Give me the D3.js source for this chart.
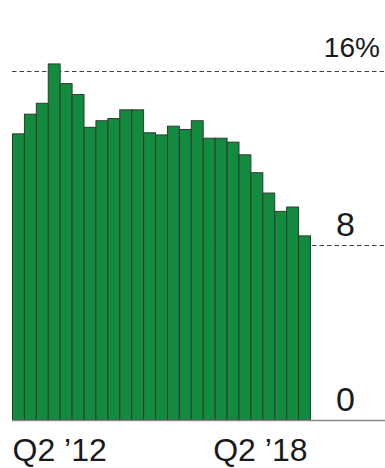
<!DOCTYPE html>
<html>
<head>
<meta charset="utf-8">
<script src="https://cdn.jsdelivr.net/npm/d3@7"></script>
<style>
  html, body { margin: 0; padding: 0; background: #fff; }
  svg { display: block; }
  text { font-family: "Liberation Sans", Arial, Helvetica, sans-serif; fill: #1a1a1a; }
</style>
</head>
<body>
<svg id="chart" width="385" height="468"></svg>
<script>
// Quarterly share, Q2 2012 through Q2 2018 (percent)
const quarters = [
  "Q2 '12", "Q3 '12", "Q4 '12", "Q1 '13", "Q2 '13", "Q3 '13", "Q4 '13",
  "Q1 '14", "Q2 '14", "Q3 '14", "Q4 '14", "Q1 '15", "Q2 '15", "Q3 '15",
  "Q4 '15", "Q1 '16", "Q2 '16", "Q3 '16", "Q4 '16", "Q1 '17", "Q2 '17",
  "Q3 '17", "Q4 '17", "Q1 '18", "Q2 '18"
];
const shares = [
  13.1, 14.0, 14.5, 16.3, 15.4, 14.9, 13.4, 13.7, 13.8, 14.2, 14.2, 13.15, 13.05,
  13.45, 13.3, 13.7, 12.9, 12.9, 12.72, 12.14, 11.32, 10.39, 9.55, 9.75, 8.43
];
const gridValues = [16, 8];
const tickLabels = ["16", "8", "0"];
const tickValues = [16, 8, 0];
const xLabels = ["Q2 '12", "Q2 '18"];

const svg = d3.select("#chart");

const x = d3.scaleBand().domain(quarters).range([12.5, 310.5]).padding(0);
const y = d3.scaleLinear().domain([0, 16]).range([420, 70.5]);

// dashed reference lines
svg.append("g")
  .selectAll("line")
  .data(gridValues)
  .join("line")
  .attr("x1", 12)
  .attr("x2", 385)
  .attr("y1", d => Math.round(y(d)) + 0.5)
  .attr("y2", d => Math.round(y(d)) + 0.5)
  .attr("stroke", "#444")
  .attr("stroke-width", 1.2)
  .attr("stroke-dasharray", "4.5,3");

// bars
svg.append("g")
  .selectAll("rect")
  .data(shares)
  .join("rect")
  .attr("x", (d, i) => x(quarters[i]))
  .attr("y", d => y(d))
  .attr("width", x.bandwidth())
  .attr("height", d => y(0) - y(d))
  .attr("fill", "#128b3f")
  .attr("stroke", "#2e3a30")
  .attr("stroke-width", 1);

// baseline
svg.append("line")
  .attr("x1", 12).attr("x2", 385)
  .attr("y1", y(0) + 0.5).attr("y2", y(0) + 0.5)
  .attr("stroke", "#8a8a8a")
  .attr("stroke-width", 1.5);

// value axis labels, numbers right-aligned with the % hanging outside
const yl = svg.append("g");
tickValues.forEach((v, i) => {
  const isTop = i === 0;
  const base = isTop ? y(v) - 13.5 : y(v) - 9.5;
  yl.append("text")
    .attr("x", 355)
    .attr("y", base)
    .attr("text-anchor", "end")
    .style("font-size", isTop ? "28px" : "34px")
    .text(tickLabels[i]);
  if (isTop) {
    yl.append("text")
      .attr("x", 355)
      .attr("y", base)
      .attr("text-anchor", "start")
      .style("font-size", "28px")
      .text("%");
  }
});

// category labels at the first and last quarter
svg.append("text")
  .attr("x", x(xLabels[0]))
  .attr("y", 461)
  .attr("text-anchor", "start")
  .style("font-size", "32px")
  .text(xLabels[0].replace("'", "\u2019"));
svg.append("text")
  .attr("x", x(xLabels[1]) + x.bandwidth() - 3)
  .attr("y", 461)
  .attr("text-anchor", "end")
  .style("font-size", "32px")
  .text(xLabels[1].replace("'", "\u2019"));
</script>
</body>
</html>
